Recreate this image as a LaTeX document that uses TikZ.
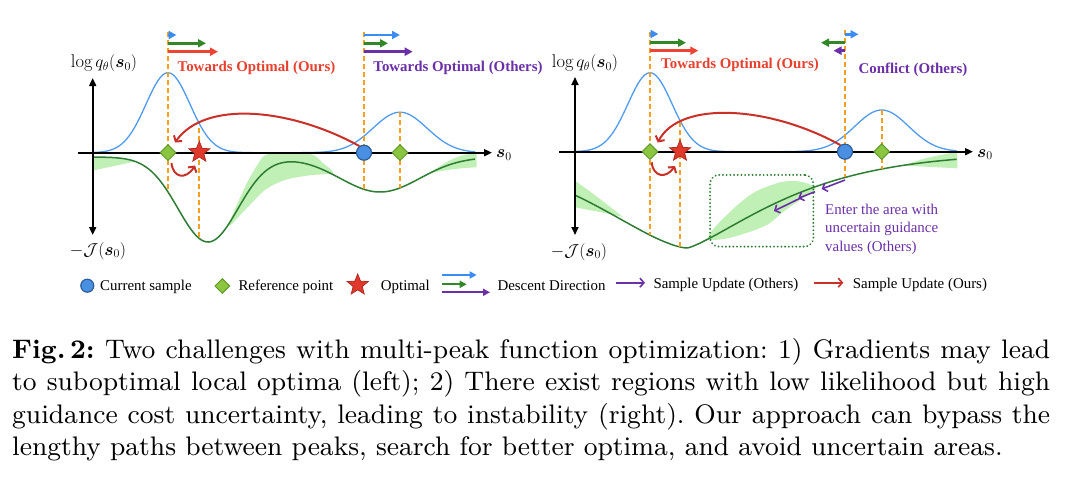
\documentclass[tikz,border=0pt]{standalone}
\usepackage{fontspec}
\usepackage{amsmath}
\usepackage{bm}
\usetikzlibrary{arrows.meta,shapes.geometric}
\newfontfamily\tms{Liberation Serif}
\newfontfamily\capfont[BoldFont=lmroman9-bold.otf]{lmroman9-regular.otf}
\definecolor{bluecurve}{RGB}{80,155,240}
\definecolor{bluea}{RGB}{60,140,245}
\definecolor{greenc}{RGB}{46,125,50}
\definecolor{greena}{RGB}{50,135,40}
\definecolor{band}{RGB}{192,240,182}
\definecolor{orng}{RGB}{245,160,35}
\definecolor{redt}{RGB}{232,64,47}
\definecolor{reda}{RGB}{238,68,51}
\definecolor{redc}{RGB}{200,48,40}
\definecolor{purp}{RGB}{107,47,168}
\definecolor{diaf}{RGB}{140,197,64}
\definecolor{diab}{RGB}{94,154,42}
\definecolor{circf}{RGB}{74,144,226}
\definecolor{circb}{RGB}{44,94,158}
\definecolor{starf}{RGB}{224,57,43}
\definecolor{starb}{RGB}{176,42,32}
\tikzset{
  axisline/.style={line width=1.8pt, black, {Triangle[length=8pt,width=7pt]}-{Triangle[length=8pt,width=7pt]}},
  axisarrow/.style={line width=1.8pt, black, -{Triangle[length=8pt,width=7pt]}},
  guide/.style={draw=orng, line width=1.8pt, dash pattern=on 5pt off 3pt},
  descarrow/.style={line width=2.5pt, -{Triangle[length=8pt,width=8pt]}},
  legarrow/.style={line width=1.8pt, -{Triangle[length=7pt,width=7pt]}},
  redcurve/.style={draw=redc, line width=2pt, -{Straight Barb[length=4pt,width=10pt]}},
  updarrow/.style={line width=1.6pt, -{Straight Barb[length=4pt,width=9pt]}},
  cursample/.style={circle, draw=circb, fill=circf, line width=1.2pt, minimum size=15pt, inner sep=0pt},
  refpt/.style={diamond, draw=diab, fill=diaf, line width=1pt, minimum size=16pt, inner sep=0pt},
  optpt/.style={star, star points=5, star point ratio=2.3, draw=starb, fill=starf, line width=0.8pt, minimum size=22pt, inner sep=0pt},
  toplabel/.style={font=\tms\bfseries\fontsize{14.9}{17}\selectfont, inner sep=0pt, anchor=base},
  mathlabel/.style={font=\fontsize{18.5}{20}\selectfont, inner sep=0pt, anchor=base},
  legtext/.style={font=\tms\fontsize{14.9}{17}\selectfont, inner sep=0pt, anchor=base west},
  bluec/.style={draw=bluecurve, line width=1.3pt},
  greencv/.style={draw=greenc, line width=1.5pt},
}
\begin{document}
\begin{tikzpicture}[x=1pt,y=-1pt,
  declare function={
    bL(\x)=152.7-80*exp(max(-15,-0.5*((\x-168)/22)*((\x-168)/22)))-40.5*exp(max(-15,-0.5*((\x-400)/27)*((\x-400)/27)));
    bR(\x)=151.7-79*exp(max(-15,-0.5*((\x-650)/22)*((\x-650)/22)))-41.7*exp(max(-15,-0.5*((\x-881.7)/27)*((\x-881.7)/27)));
    fL(\x)=157+85*exp(max(-15,-0.5*((\x-208)/30)*((\x-208)/30)))+35*exp(max(-15,-0.5*((\x-380)/40)*((\x-380)/40)));
    fR(\x)=153+95*ifthenelse(\x<687,exp(-pow(abs(\x-687)/128+0.0001,1.55)),exp(-pow(abs(\x-687)/125+0.0001,1.3)));
  }]
\useasboundingbox (0,0) rectangle (1069,482);

% ---------- uncertainty bands ----------
\fill[band] plot[domain=93:135,samples=20] (\x,{fL(\x)}) .. controls (115,166) and (100,169) .. (93,170.5) -- cycle;
\fill[band] plot[smooth cycle, tension=0.55] coordinates {(229,225) (245,187) (258,164) (267,154.5) (290,153.5) (312,154.5) (323,163) (333,172.5) (320,174.5) (308,175.5) (285,180) (265,190) (245,210)};
\fill[band] (430,173) .. controls (445,162) and (458,154) .. (476.7,153.3) -- (476.7,167.3) .. controls (460,168) and (445,170) .. (430,173) -- cycle;
\fill[band] (575,180.7) .. controls (595,195) .. (623,217) .. controls (600,212) .. (575,207.3) -- cycle;
\fill[band] plot[smooth cycle, tension=0.6] coordinates {(708,238) (720,221.7) (750,195) (776.7,183.3) (793.3,181) (806.7,183.3) (815.5,189) (800,200) (783.3,211.7) (766.7,225) (740,235) (720,239.5)};
\fill[band] (903,165.5) .. controls (925,158) .. (957.3,151.7) -- (957.3,168.3) .. controls (930,167) .. (903,165.5) -- cycle;

% ---------- curves ----------
\draw[bluec] plot[domain=93:475,samples=160] (\x,{bL(\x)});
\draw[bluec] plot[domain=575:956.7,samples=160] (\x,{bR(\x)});
\draw[greencv] plot[domain=93:475,samples=160] (\x,{fL(\x)});
\draw[greencv] plot[domain=575:956.7,samples=160] (\x,{fR(\x)});

% ---------- guide lines ----------
\draw[guide] (168,32) -- (168,192);
\draw[guide] (199.3,128) -- (199.3,239);
\draw[guide] (364,32) -- (364,189);
\draw[guide] (400,112) -- (400,188);
\draw[guide] (650,32) -- (650,235);
\draw[guide] (680,122) -- (680,248);
\draw[guide] (845,30) -- (845,177);
\draw[guide] (881.7,110) -- (881.7,169);

% ---------- axes ----------
\draw[axisline] (92.7,78) -- (92.7,235);
\draw[axisarrow] (78,152.7) -- (492,152.7);
\draw[axisline] (575,77) -- (575,235);
\draw[axisarrow] (559,151.7) -- (973,151.7);
\node[mathlabel, anchor=base west] (sL) at (496,157.5) {$\bm{s}_0$};
\node[mathlabel, anchor=base west] (sR) at (977,157) {$\bm{s}_0$};
\node[mathlabel] (logL) at (104,67.5) {$\log q_\theta(\bm{s}_0)$};
\node[mathlabel] (logR) at (585,67.5) {$\log q_\theta(\bm{s}_0)$};
\node[mathlabel] (JL) at (98,255) {$-\mathcal{J}(\bm{s}_0)$};
\node[mathlabel] (JR) at (579,256) {$-\mathcal{J}(\bm{s}_0)$};

% ---------- markers ----------
\node[refpt] (dia1) at (168,152.7) {};
\node[optpt] (opt1) at (199.3,152.2) {};
\node[cursample] (cur1) at (364,152.7) {};
\node[refpt] (dia2) at (400,152.7) {};
\node[refpt] (dia3) at (650,151.7) {};
\node[optpt] (opt2) at (680,151.2) {};
\node[cursample] (cur2) at (845,151.7) {};
\node[refpt] (dia4) at (881.7,151.7) {};

% ---------- descent directions ----------
\coordinate (tL1) at (168,35); \coordinate (tL2) at (364,35);
\coordinate (tR1) at (650,34); \coordinate (tR2) at (845,34.3);
\draw[descarrow, bluea] (tL1) -- ++(8.5,0);
\draw[descarrow, greena] ([yshift=-8.3]tL1) -- ++(38,0);
\draw[descarrow, reda] ([yshift=-16.7]tL1) -- ++(50,0);
\draw[descarrow, bluea] (tL2) -- ++(36,0);
\draw[descarrow, greena] ([yshift=-8.3]tL2) -- ++(24,0);
\draw[descarrow, purp] ([yshift=-16.7]tL2) -- ++(48.7,0);
\draw[descarrow, bluea] (tR1) -- ++(8.5,0);
\draw[descarrow, greena] ([yshift=-8.7]tR1) -- ++(36,0);
\draw[descarrow, reda] ([yshift=-16.7]tR1) -- ++(48.3,0);
\draw[descarrow, bluea] (tR2) -- ++(13.5,0);
\draw[descarrow, greena] ([yshift=-8.4]tR2) -- ++(-24,0);
\draw[descarrow, purp] ([yshift=-16.4]tR2) -- ++(-11.5,0);

\node[toplabel, text=redt] (ours1) at (256.5,71.7) {Towards Optimal (Ours)};
\node[toplabel, text=purp] (others1) at (458,71.7) {Towards Optimal (Others)};
\node[toplabel, text=redt] (ours2) at (740,68.3) {Towards Optimal (Ours)};
\node[toplabel, text=purp] (conf) at (913,73.3) {Conflict (Others)};

% ---------- sample updates ----------
\coordinate (L1end) at (175,142.5);
\coordinate (L1a) at (171.5,163);
\coordinate (L1b) at (195,165.5);
\draw[redcurve] (cur1.125) .. controls (290,108) and (205,100) .. (L1end);
\draw[redcurve] (L1a) .. controls (173,178) and (186,180) .. (L1b);
\coordinate (R1end) at (657.7,142.5);
\coordinate (R1a) at (651.7,162.3);
\coordinate (R1b) at (675,166);
\draw[redcurve] (cur2.125) .. controls (770,106) and (680,100) .. (R1end);
\draw[redcurve] (R1a) .. controls (653,177) and (666,179) .. (R1b);

\node[draw=greenc, line width=2pt, dash pattern=on 0.1pt off 3.6pt, line cap=round, rounded corners=9pt, minimum width=103.3pt, minimum height=71.7pt, inner sep=0pt] (ubox) at (761.7,210.8) {};
\coordinate (p0) at (845,180);
\coordinate (p1) at (821.7,189);
\coordinate (p2) at (815,191.7);
\coordinate (p3) at (798.3,198.3);
\coordinate (p4) at (800,198.3);
\coordinate (p5) at (774,211);
\draw[updarrow, purp] (p0) -- (p1);
\draw[updarrow, purp] (p2) -- (p3);
\draw[updarrow, purp] (p4) -- (p5);
\node[font=\tms\fontsize{14.9}{18.5}\selectfont, text=purp, align=left, anchor=north west, inner sep=0pt] (enter) at (825,203.5) {Enter the area with\\uncertain guidance\\values (Others)};

% ---------- legend ----------
\node[cursample, minimum size=13pt] (lgc) at (87.3,285.7) {};
\node[legtext] (lgct) at (100,290.7) {Current sample};
\node[refpt, minimum size=15pt] (lgd) at (222.3,286) {};
\node[legtext] (lgdt) at (238.3,290.7) {Reference point};
\node[optpt] (lgs) at (357.7,285) {};
\node[legtext] (lgst) at (380.7,290.7) {Optimal};
\coordinate (la) at (441.7,275);
\draw[legarrow, bluea] (la) -- ++(35,0);
\draw[legarrow, greena] ([yshift=-9.3]la) -- ++(25,0);
\draw[legarrow, purp] ([yshift=-17.3]la) -- ++(48.3,0);
\node[legtext] (lgat) at (497.3,290) {Descent Direction};
\coordinate (lu1) at (616,282.7);
\draw[updarrow, purp] (lu1) -- ++(29,0);
\node[legtext] (lgu1) at (653.3,288.3) {Sample Update (Others)};
\coordinate (lu2) at (814,282.7);
\draw[updarrow, redc] (lu2) -- ++(29.3,0);
\node[legtext] (lgu2) at (852.7,288.3) {Sample Update (Ours)};

% ---------- caption ----------
\node[anchor=base west, inner sep=0pt] (cap) at (12,358.5) {\parbox[t]{1038pt}{\capfont\fontsize{26.8}{32.3}\selectfont\frenchspacing\setlength{\parindent}{0pt}%
\makebox[1038pt][s]{\textbf{Fig.\,2:} Two challenges with multi-peak function optimization: 1) Gradients may lead}\\
\makebox[1038pt][s]{to suboptimal local optima (left); 2) There exist regions with low likelihood but high}\\
\makebox[1038pt][s]{guidance cost uncertainty, leading to instability (right). Our approach can bypass the}\\
lengthy paths between peaks, search for better optima, and avoid uncertain areas.}};
\end{tikzpicture}
\end{document}
